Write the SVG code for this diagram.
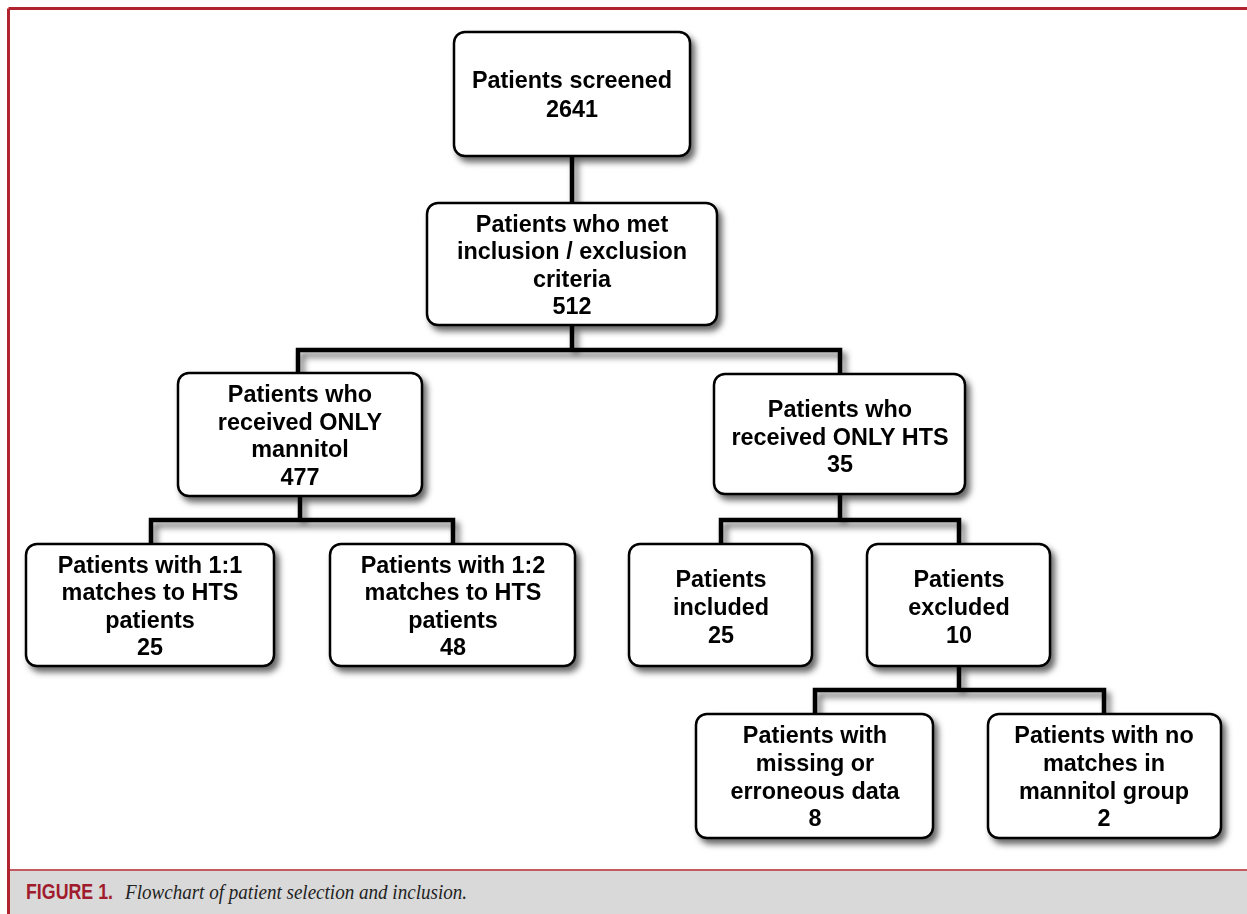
<svg xmlns="http://www.w3.org/2000/svg" width="1247" height="914" viewBox="0 0 1247 914">
<defs>
<filter id="sh" x="-10%" y="-10%" width="130%" height="140%">
<feDropShadow dx="4" dy="5" stdDeviation="3" flood-color="#000" flood-opacity="0.6"/>
</filter>
<style>
.box{fill:#fff;stroke:#000;stroke-width:2.5}
.t{font-family:"Liberation Sans",Arial,sans-serif;font-weight:bold;font-size:23.4px;fill:#000;text-anchor:middle}
.c{fill:none;stroke:#000;stroke-width:4.5;stroke-linejoin:miter;stroke-linecap:butt}
</style>
</defs>
<rect x="0" y="0" width="1247" height="914" fill="#fff"/>
<!-- caption band -->
<rect x="9" y="870" width="1238" height="44" fill="#d9d9d9"/>
<line x1="9" y1="870" x2="1247" y2="870" stroke="#c25a62" stroke-width="2"/>
<line x1="8.5" y1="8.5" x2="1247" y2="8.5" stroke="#b1242e" stroke-width="3"/>
<line x1="8.5" y1="8.5" x2="8.5" y2="914" stroke="#b1242e" stroke-width="3"/>
<text x="26" y="899" font-family="'Liberation Sans',Arial,sans-serif" font-weight="bold" font-size="22" fill="#a01c2c" textLength="87" lengthAdjust="spacingAndGlyphs">FIGURE 1.</text>
<text x="125" y="899" font-family="'Liberation Serif','Times New Roman',serif" font-style="italic" font-size="22" fill="#222" textLength="342" lengthAdjust="spacingAndGlyphs">Flowchart of patient selection and inclusion.</text>

<g id="connectors" filter="url(#sh)">
<path class="c" d="M572,156 V203"/>
<path class="c" d="M572,325 V350 M298,373 V350 H840 V374"/>
<path class="c" d="M300,496 V520 M151,544 V520 H453 V544"/>
<path class="c" d="M840,494 V520 M721,544 V520 H959 V544"/>
<path class="c" d="M959,666 V690 M815,714 V690 H1104 V714"/>
</g>

<g id="n1" filter="url(#sh)">
<rect class="box" x="454" y="32" width="236" height="124" rx="11"/>
<text class="t" x="572" y="88">Patients screened</text>
<text class="t" x="572" y="117">2641</text>
</g>
<g id="n2" filter="url(#sh)">
<rect class="box" x="427" y="203" width="290" height="122" rx="11"/>
<text class="t" x="572" y="232">Patients who met</text>
<text class="t" x="572" y="259">inclusion / exclusion</text>
<text class="t" x="572" y="287">criteria</text>
<text class="t" x="572" y="314">512</text>
</g>
<g id="n3" filter="url(#sh)">
<rect class="box" x="178" y="373" width="244" height="123" rx="11"/>
<text class="t" x="300" y="402">Patients who</text>
<text class="t" x="300" y="430">received ONLY</text>
<text class="t" x="300" y="457">mannitol</text>
<text class="t" x="300" y="485">477</text>
</g>
<g id="n4" filter="url(#sh)">
<rect class="box" x="714" y="374" width="251" height="120" rx="11"/>
<text class="t" x="840" y="417">Patients who</text>
<text class="t" x="840" y="445">received ONLY HTS</text>
<text class="t" x="840" y="472">35</text>
</g>
<g id="n5" filter="url(#sh)">
<rect class="box" x="26" y="544" width="248" height="122" rx="11"/>
<text class="t" x="150" y="573">Patients with 1:1</text>
<text class="t" x="150" y="600">matches to HTS</text>
<text class="t" x="150" y="628">patients</text>
<text class="t" x="150" y="655">25</text>
</g>
<g id="n6" filter="url(#sh)">
<rect class="box" x="330" y="544" width="245" height="122" rx="11"/>
<text class="t" x="453" y="573">Patients with 1:2</text>
<text class="t" x="453" y="600">matches to HTS</text>
<text class="t" x="453" y="628">patients</text>
<text class="t" x="453" y="655">48</text>
</g>
<g id="n7" filter="url(#sh)">
<rect class="box" x="629" y="544" width="183" height="122" rx="11"/>
<text class="t" x="721" y="587">Patients</text>
<text class="t" x="721" y="615">included</text>
<text class="t" x="721" y="643">25</text>
</g>
<g id="n8" filter="url(#sh)">
<rect class="box" x="867" y="544" width="183" height="122" rx="11"/>
<text class="t" x="959" y="587">Patients</text>
<text class="t" x="959" y="615">excluded</text>
<text class="t" x="959" y="643">10</text>
</g>
<g id="n9" filter="url(#sh)">
<rect class="box" x="696" y="714" width="237" height="124" rx="11"/>
<text class="t" x="815" y="743">Patients with</text>
<text class="t" x="815" y="771">missing or</text>
<text class="t" x="815" y="799">erroneous data</text>
<text class="t" x="815" y="826">8</text>
</g>
<g id="n10" filter="url(#sh)">
<rect class="box" x="988" y="714" width="233" height="124" rx="11"/>
<text class="t" x="1104" y="743">Patients with no</text>
<text class="t" x="1104" y="771">matches in</text>
<text class="t" x="1104" y="799">mannitol group</text>
<text class="t" x="1104" y="826">2</text>
</g>
</svg>
